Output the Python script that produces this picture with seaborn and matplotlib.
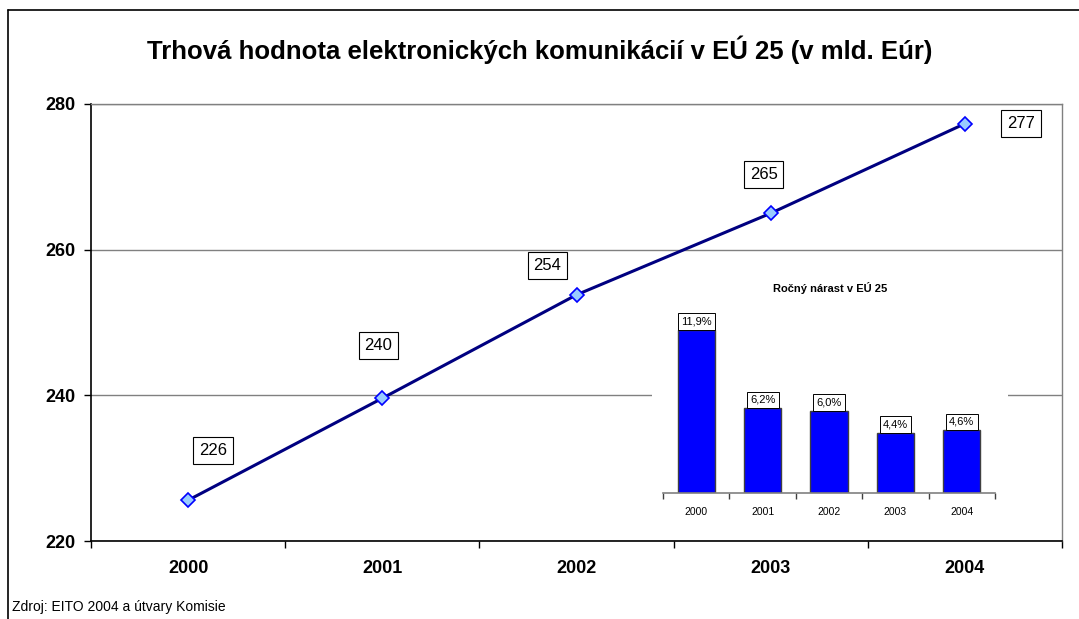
import matplotlib
matplotlib.use('Agg')
import matplotlib.pyplot as plt
from matplotlib.lines import Line2D
import numpy as np
import pandas as pd
import seaborn as sns

sns.set_style("white")
plt.rcParams['font.family'] = ['Liberation Sans', 'DejaVu Sans']
plt.rcParams['text.color'] = 'black'
plt.rcParams['xtick.color'] = 'black'
plt.rcParams['ytick.color'] = 'black'
plt.rcParams['axes.labelcolor'] = 'black'

# data
years = ["2000", "2001", "2002", "2003", "2004"]
market_value = [225.6, 239.6, 253.8, 265.0, 277.3]
value_labels = ["226", "240", "254", "265", "277"]
growth = [11.9, 6.2, 6.0, 4.4, 4.6]
growth_labels = ["11,9%", "6,2%", "6,0%", "4,4%", "4,6%"]

# label offsets (pixels) relative to each point
label_offsets = [(25, 50), (-4, 53), (-29, 29), (-7, 39), (56, 0)]

W, H = 1079, 619
fig = plt.figure(figsize=(W / 100, H / 100), dpi=100)

# outer frame (top and left edges)
fig.add_artist(Line2D([8 / W, 1.0], [1 - 10 / H, 1 - 10 / H], color='black', lw=1.2))
fig.add_artist(Line2D([8 / W, 8 / W], [0.0, 1 - 10 / H], color='black', lw=1.2))

ax = fig.add_axes([91 / W, (H - 541) / H, (1062 - 91) / W, (541 - 104) / H])
df = pd.DataFrame({"pos": np.arange(len(years)), "value": market_value})
sns.lineplot(data=df, x="pos", y="value", ax=ax, color='#000080', linewidth=2.2,
             marker='D', markersize=7.5, markerfacecolor='#99CCFF',
             markeredgecolor='#0000FF', markeredgewidth=1.2, zorder=5)

ax.set_xlim(-0.5, len(years) - 0.5)
ax.set_ylim(220, 280)
ax.set_yticks([220, 240, 260, 280])
ax.set_yticklabels(["220", "240", "260", "280"], fontsize=13, fontweight='bold')
ax.set_xticks(range(len(years)))
ax.set_xticklabels(years, fontsize=13, fontweight='bold')
ax.set_xticks(np.arange(-0.5, len(years)), minor=True)
ax.tick_params(axis='x', which='major', bottom=True, length=0, pad=14)
ax.tick_params(axis='x', which='minor', bottom=True, length=5, direction='out', color='black', width=1)
ax.tick_params(axis='y', left=True, length=5, direction='out', color='black', width=1, pad=6)
ax.set_xlabel("")
ax.set_ylabel("")
ax.yaxis.grid(True, color='#808080', linewidth=1)
ax.xaxis.grid(False)
for side in ['left', 'bottom']:
    ax.spines[side].set_color('black')
    ax.spines[side].set_linewidth(1.2)
for side in ['top', 'right']:
    ax.spines[side].set_color('#808080')
    ax.spines[side].set_linewidth(1)

for i, (v, lab) in enumerate(zip(market_value, value_labels)):
    dx, dy = label_offsets[i]
    ax.annotate(lab, (i, v), xytext=(dx, dy), textcoords='offset pixels',
                ha='center', va='center', fontsize=12,
                bbox=dict(boxstyle='square,pad=0.35', fc='white', ec='black', lw=0.8))

fig.text(0.5, 1 - 50 / H, "Trhová hodnota elektronických komunikácií v EÚ 25 (v mld. Eúr)",
         ha='center', va='center', fontsize=18.5, fontweight='bold')

# white background of inset
bg = fig.add_axes([652 / W, (H - 525) / H, (1008 - 652) / W, (525 - 268) / H])
bg.set_facecolor('white')
bg.set_xticks([])
bg.set_yticks([])
for s in bg.spines.values():
    s.set_visible(False)

ins = fig.add_axes([663 / W, (H - 493) / H, (995 - 663) / W, (493 - 301) / H])
ins.patch.set_alpha(0)
gdf = pd.DataFrame({"year": years, "growth": growth})
sns.barplot(data=gdf, x="year", y="growth", ax=ins, color='#0000FF', saturation=1,
            edgecolor='#404040', linewidth=1, width=0.56)
ins.set_ylim(0, 14)
ins.set_xlim(-0.5, len(years) - 0.5)
ins.set_yticks([])
ins.set_xlabel("")
ins.set_ylabel("")
ins.set_xticks(range(len(years)))
ins.set_xticklabels(years, fontsize=7.5)
ins.set_xticks(np.arange(-0.5, len(years)), minor=True)
ins.tick_params(axis='x', which='major', bottom=True, length=0, pad=10)
ins.tick_params(axis='x', which='minor', bottom=True, length=4, direction='out', color='#404040', width=1)
for side in ['left', 'top', 'right']:
    ins.spines[side].set_visible(False)
ins.spines['bottom'].set_color('#808080')
ins.spines['bottom'].set_linewidth(1.2)
for i, (g, lab) in enumerate(zip(growth, growth_labels)):
    ins.annotate(lab, (i, g), xytext=(0, 3), textcoords='offset pixels',
                 ha='center', va='bottom', fontsize=8,
                 bbox=dict(boxstyle='square,pad=0.3', fc='white', ec='black', lw=0.7))
fig.text(830 / W, 1 - 288 / H, "Ročný nárast v EÚ 25", ha='center', va='center',
         fontsize=8, fontweight='bold')

fig.text(12 / W, 1 - 607 / H, "Zdroj: EITO 2004 a útvary Komisie", ha='left', va='center',
         fontsize=10)

fig.savefig("out.png", dpi=100)
